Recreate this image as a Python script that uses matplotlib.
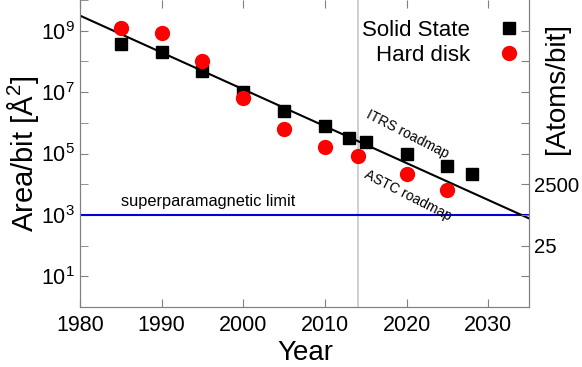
import matplotlib
matplotlib.use("Agg")
import matplotlib.pyplot as plt
import numpy as np

plt.rcParams['font.family'] = ['Liberation Sans', 'DejaVu Sans']
plt.rcParams['mathtext.fontset'] = 'custom'
plt.rcParams['mathtext.rm'] = 'Liberation Sans'
plt.rcParams['mathtext.it'] = 'Liberation Sans:italic'
plt.rcParams['mathtext.bf'] = 'Liberation Sans:bold'

# Data
ss_years = [1985, 1990, 1995, 2000, 2005, 2010, 2013, 2015, 2020, 2025, 2028]
ss_area = [3.8e8, 2.1e8, 4.7e7, 1.0e7, 2.5e6, 7.6e5, 3.1e5, 2.3e5, 9.4e4, 3.8e4, 2.1e4]
hd_years = [1985, 1990, 1995, 2000, 2005, 2010, 2014, 2020, 2025]
hd_area = [1.25e9, 8.6e8, 1.0e8, 6.2e6, 6.5e5, 1.6e5, 8.0e4, 2.2e4, 6.3e3]
trend_years = [1980, 2035]
trend_area = [3.1e9, 7.7e2]
superpara_limit = 1.0e3
now_year = 2014
x_ticks = [1980, 1990, 2000, 2010, 2020, 2030]
atoms_per_area = 0.25
right_tick_vals = [2.5 * 10**k for k in range(0, 9)]
right_tick_labels = ['' if v not in (25, 2500) else str(int(v)) for v in right_tick_vals]

fig = plt.figure(figsize=(5.82, 3.67), dpi=100)
ax = fig.add_axes([80/582, 1 - 307/367, (529-80)/582, 307/367])

spine_col = '#808080'
ax.axvline(now_year, color='#c8c8c8', lw=1.2, zorder=1)
ax.axhline(superpara_limit, color='#0000dd', lw=1.5, zorder=2)
ax.plot(trend_years, trend_area, color='black', lw=1.5, zorder=3)
ax.plot(ss_years, ss_area, 's', color='black', ms=9, ls='none', label='Solid State', zorder=4)
ax.plot(hd_years, hd_area, 'o', color='#ff0000', mec='#ff0000', ms=10, ls='none', label='Hard disk', zorder=4)

ax.set_yscale('log')
ax.set_xlim(1980, 2035)
ax.set_ylim(1, 1e10)
ax.set_xticks(x_ticks)
ax.set_xticklabels([str(t) for t in x_ticks])
ax.set_yticks([10**k for k in (1, 3, 5, 7, 9)])
ax.set_yticks([10**k for k in (0, 2, 4, 6, 8, 10)], minor=True)
ax.set_yticklabels([r'$10^{%d}$' % k for k in (1, 3, 5, 7, 9)])
ax.yaxis.set_minor_formatter(matplotlib.ticker.NullFormatter())

for s in ['left', 'bottom', 'right']:
    ax.spines[s].set_color(spine_col)
ax.spines['top'].set_visible(False)
ax.tick_params(axis='both', which='both', direction='in', colors=spine_col, labelcolor='black', labelsize=15.5)
ax.tick_params(axis='x', top=True, length=6, pad=6)
ax.tick_params(axis='y', which='both', length=6, pad=4)

ax.set_xlabel('Year', fontsize=20)
ax.xaxis.set_label_coords(0.501, -0.192)
ax.xaxis.label.set_va('bottom')
ax.set_ylabel(r'Area/bit [Å$^2$]', fontsize=21)
ax.yaxis.set_label_coords(-0.127, 0.5)
ax.yaxis.label.set_va('center')

ax2 = ax.twinx()
ax2.set_yscale('log')
ax2.set_ylim(1 * atoms_per_area, 1e10 * atoms_per_area)
ax2.set_yticks(right_tick_vals)
ax2.set_yticklabels(right_tick_labels)
ax2.yaxis.set_minor_locator(matplotlib.ticker.NullLocator())
ax2.spines['top'].set_visible(False)
for s in ['left', 'bottom', 'right']:
    ax2.spines[s].set_color(spine_col)
ax2.tick_params(axis='y', direction='in', colors=spine_col, labelcolor='black', labelsize=14.6, length=6, pad=3.5)
ax2.set_ylabel('[Atoms/bit]', fontsize=20)
ax2.yaxis.set_label_coords(1.062, 0.712)
ax2.yaxis.label.set_va('center')
ax2.yaxis.label.set_ha('center')

ax.text(1985.0, 1.6e3, 'superparamagnetic limit', fontsize=11.8, ha='left', va='bottom')
ax.text(2020.1, 4.3e5, 'ITRS roadmap', fontsize=10, rotation=-27, ha='center', va='center', rotation_mode='anchor')
ax.text(2020.2, 4.3e3, 'ASTC roadmap', fontsize=10, rotation=-27, ha='center', va='center', rotation_mode='anchor')

leg = ax.legend(loc='upper right', frameon=False, markerfirst=False, fontsize=16,
                handlelength=1.0, handletextpad=1.26, labelspacing=0.17, borderaxespad=0.0,
                borderpad=0.4, numpoints=1, bbox_to_anchor=(1.0, 0.964))

fig.savefig('out.png', dpi=100)
